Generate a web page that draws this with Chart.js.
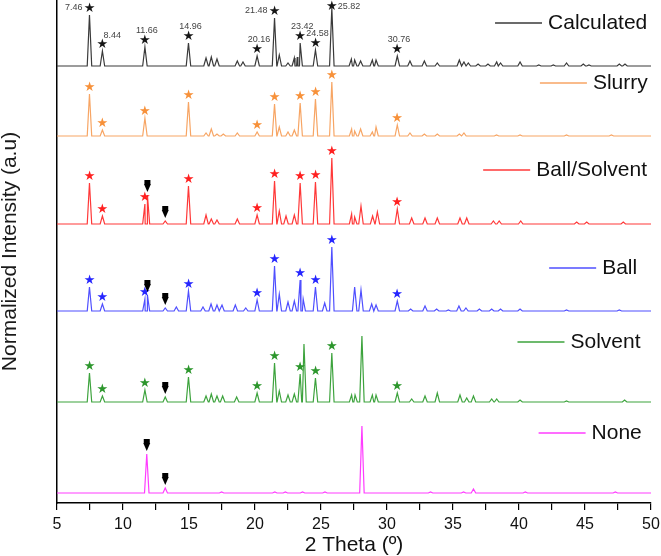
<!DOCTYPE html>
<html><head><meta charset="utf-8">
<script src="https://cdn.jsdelivr.net/npm/chart.js@4.4.1/dist/chart.umd.min.js"></script>
<style>html,body{margin:0;padding:0;background:#fff;}#wrap{width:661px;height:556px;}</style>
</head><body><div id="wrap"><canvas id="c" width="661" height="556"></canvas></div>
<script>
// ---------------- DATA ----------------
const seriesNames = ['Calculated', 'Slurry', 'Ball/Solvent', 'Ball', 'Solvent', 'None'];

// peak positions (2θ, degrees) and peak intensities (a.u. above each trace's own baseline)
const calcX = [7.46, 8.44, 11.66, 14.96, 16.29, 16.69, 17.12, 18.66, 19.09, 20.16, 21.48, 21.84, 22.5, 22.98, 23.2, 23.42, 24.58, 25.82, 27.3, 27.55, 28.0, 28.89, 29.17, 30.78, 31.74, 32.83, 33.81, 35.48, 35.83, 36.16, 36.9, 37.65, 38.31, 38.6, 40.08, 41.5, 42.6, 43.6, 44.87, 45.3, 47.6, 48.03];
const calcY = [51, 15, 19, 23, 8, 9, 7, 5, 4, 10, 48, 11, 3, 8, 9, 23, 16, 58, 7, 6, 5, 6, 6, 10, 5, 5, 3, 6, 4, 3, 2, 2, 4, 3, 4, 1, 1, 3, 2, 1, 2, 2];

const slurryX = [7.46, 8.44, 11.66, 14.96, 16.29, 16.69, 17.12, 17.6, 18.66, 20.16, 21.48, 21.84, 22.5, 22.98, 23.42, 24.58, 25.82, 27.32, 27.55, 28.0, 28.89, 29.17, 30.78, 31.74, 32.83, 33.81, 35.48, 35.83, 38.3, 40.08, 43.6, 47.0];
const slurryY = [42, 6, 18, 34, 3, 7, 2, 2, 3, 4, 32, 9, 4, 6, 33, 37, 54, 7, 5, 7, 4, 9, 11, 3, 2, 2, 2, 3, 1, 1, 1, 1];

const ballSolventX = [7.46, 8.44, 11.66, 11.85, 13.2, 14.96, 16.29, 16.69, 17.12, 18.66, 20.16, 21.48, 21.84, 22.35, 22.98, 23.42, 24.58, 25.82, 27.32, 27.55, 28.03, 28.91, 29.27, 30.78, 31.87, 32.88, 33.81, 35.53, 36.04, 38.06, 38.5, 40.13, 44.37, 45.13, 47.9];
const ballSolventY = [41, 8, 20, 29, 3, 38, 9, 5, 4, 5, 9, 43, 13, 8, 9, 41, 42, 66, 10, 7, 18, 8, 12, 15, 6, 6, 6, 6, 6, 3, 3, 3, 2, 2, 2];

const ballX = [7.46, 8.44, 11.66, 11.85, 13.2, 14.04, 14.96, 16.06, 16.67, 17.12, 17.5, 18.51, 19.3, 20.16, 21.48, 21.84, 22.5, 22.98, 23.42, 23.65, 24.58, 25.28, 25.82, 27.55, 28.03, 28.84, 29.17, 30.78, 31.79, 32.88, 33.76, 34.65, 35.45, 35.98, 37.0, 37.93, 38.6, 40.08, 43.6, 47.6];
const ballY = [24, 7, 12, 16, 3, 4, 20, 4, 7, 6, 6, 6, 3, 11, 45, 17, 9, 10, 31, 12, 24, 8, 64, 24, 21, 7, 6, 10, 2, 5, 2, 1, 5, 3, 2, 2, 2, 2, 1, 1];

const solventX = [7.46, 8.44, 11.66, 13.2, 14.96, 16.29, 16.69, 17.12, 17.55, 18.61, 20.16, 21.48, 21.84, 22.5, 22.98, 23.42, 23.71, 24.58, 25.82, 27.32, 27.58, 28.1, 28.89, 29.17, 30.78, 31.87, 32.88, 33.81, 35.53, 36.04, 36.55, 37.93, 38.31, 40.08, 43.6, 48.0];
const solventY = [29, 6, 12, 5, 25, 6, 8, 6, 6, 5, 9, 39, 11, 7, 8, 28, 58, 24, 49, 7, 7, 66, 7, 7, 9, 3, 6, 9, 7, 4, 6, 3, 3, 2, 1, 2];

const noneX = [11.8, 13.2, 17.47, 21.5, 22.3, 23.6, 25.3, 28.1, 33.3, 35.8, 36.55, 40.48, 47.3];
const noneY = [39, 5, 1, 1, 1, 1, 1, 67, 1, 1, 4, 1, 1];

// reflections marked with stars (same list for every pattern); labels printed on the calculated one
const starAngles = [7.46, 8.44, 11.66, 14.96, 20.16, 21.48, 23.42, 24.58, 25.82, 30.76];
const calcStarLabels = ['7.46', '8.44', '11.66', '14.96', '20.16', '21.48', '23.42', '24.58', '25.82', '30.76'];

// reflections marked with black triangles
const calcTriangles = [];
const slurryTriangles = [];
const ballSolventTriangles = [11.85, 13.2];
const ballTriangles = [11.85, 13.2];
const solventTriangles = [13.2];
const noneTriangles = [11.8, 13.2];

// x-axis tick labels
const xTickLabels = [5, 10, 15, 20, 25, 30, 35, 40, 45, 50];

// ---------------- LAYOUT / STYLE ----------------
const traceOffsets = [437, 367, 279, 192, 101, 10];       // vertical stacking offsets
const lineColors = ['#3a3a3a', '#F7A564', '#FF3838', '#4F4FFF', '#3DA33D', '#FF3CFF'];
const starColors = ['#151515', '#F7913A', '#FF2020', '#2525FF', '#2C962C', '#000'];
const legendTextX = [42.2, 45.6, 41.3, 46.3, 43.9, 45.5];  // data-x of legend text left edge
const legendY = [480, 420, 333, 235, 161, 70];               // data-y of legend row
const labelPlace = ['L', 'TR', 'T', 'T', 'T', 'L', 'T', 'T', 'R', 'T'];
const FONT = '"Liberation Sans", Arial, sans-serif';

const peakXs = [calcX, slurryX, ballSolventX, ballX, solventX, noneX];
const peakYs = [calcY, slurryY, ballSolventY, ballY, solventY, noneY];
const triLists = [calcTriangles, slurryTriangles, ballSolventTriangles, ballTriangles, solventTriangles, noneTriangles];

function profile(px, py, off) {
  const w = 0.17;
  const pts = [{x: 5, y: off}, {x: 50, y: off}];
  px.forEach((x, i) => {
    pts.push({x: x - w, y: off}, {x: x, y: off + py[i]}, {x: x + w, y: off});
  });
  pts.sort((a, b) => a.x - b.x);
  return pts;
}
function peakHeightNear(px, py, a, tol) {
  let best = 0;
  px.forEach((x, i) => { if (Math.abs(x - a) <= tol && py[i] > best) best = py[i]; });
  return best;
}

const datasets = seriesNames.map((name, i) => ({
  label: name,
  data: profile(peakXs[i], peakYs[i], traceOffsets[i]),
  borderColor: lineColors[i],
  borderWidth: 1.2,
  pointRadius: 0,
  tension: 0,
  fill: false
}));

const markers = {
  id: 'markers',
  afterDatasetsDraw(chart) {
    const ctx = chart.ctx, xs = chart.scales.x, ys = chart.scales.y;
    const top = chart.chartArea.top;
    ctx.save();
    // stars
    seriesNames.forEach((name, i) => {
      if (name === 'None') return;
      starAngles.forEach((a, k) => {
        const h = peakHeightNear(peakXs[i], peakYs[i], a, 0.12);
        const px = xs.getPixelForValue(a);
        let py = ys.getPixelForValue(traceOffsets[i] + h) - 6;
        py = Math.max(py, top + 7);
        ctx.fillStyle = starColors[i];
        ctx.font = '13px "DejaVu Sans"';
        ctx.textAlign = 'center';
        ctx.textBaseline = 'middle';
        ctx.fillText('\u2605', px, py);
        if (i === 0) {
          ctx.fillStyle = '#444';
          ctx.font = '9px ' + FONT;
          const pl = labelPlace[k];
          if (pl === 'L') { ctx.textAlign = 'right'; ctx.fillText(calcStarLabels[k], px - 7, py - 1); }
          else if (pl === 'R') { ctx.textAlign = 'left'; ctx.fillText(calcStarLabels[k], px + 6, py); }
          else if (pl === 'TR') { ctx.textAlign = 'left'; ctx.fillText(calcStarLabels[k], px + 1, py - 9); }
          else { ctx.textAlign = 'center'; ctx.fillText(calcStarLabels[k], px + 2, py - 10); }
        }
      });
    });
    // triangles
    triLists.forEach((list, i) => {
      list.forEach(a => {
        const h = peakHeightNear(peakXs[i], peakYs[i], a, 0.1);
        const px = xs.getPixelForValue(a);
        const tip = ys.getPixelForValue(traceOffsets[i] + h) - 3;
        ctx.fillStyle = '#000';
        ctx.beginPath();
        ctx.moveTo(px, tip);
        ctx.lineTo(px - 3.5, tip - 8);
        ctx.lineTo(px + 3.5, tip - 8);
        ctx.closePath();
        ctx.fill();
        ctx.fillRect(px - 3, tip - 12, 6, 4);
      });
    });
    // legend
    seriesNames.forEach((name, i) => {
      const tx = xs.getPixelForValue(legendTextX[i]);
      const ty = ys.getPixelForValue(legendY[i]);
      ctx.strokeStyle = lineColors[i];
      ctx.lineWidth = 1.5;
      ctx.beginPath();
      ctx.moveTo(tx - 53, ty);
      ctx.lineTo(tx - 6, ty);
      ctx.stroke();
      ctx.fillStyle = '#111';
      ctx.font = '21px ' + FONT;
      ctx.textAlign = 'left';
      ctx.textBaseline = 'middle';
      ctx.fillText(name, tx, ty);
    });
    ctx.restore();
  }
};

new Chart(document.getElementById('c'), {
  type: 'line',
  data: { datasets },
  options: {
    responsive: false,
    animation: false,
    devicePixelRatio: 1,
    layout: { padding: { left: 0, right: 10, top: 0, bottom: 0 } },
    plugins: { legend: { display: false }, tooltip: { enabled: false } },
    scales: {
      x: {
        type: 'linear', min: 5, max: 50,
        ticks: {
          stepSize: 2.5, autoSkip: false, maxRotation: 0, padding: 5,
          color: '#111', font: { family: FONT, size: 16 },
          callback: v => xTickLabels.includes(Number(v)) ? String(v) : ''
        },
        grid: { display: true, drawOnChartArea: false, drawTicks: true, tickLength: 7, color: '#000', lineWidth: 1.2 },
        border: { display: true, color: '#000', width: 1.5 },
        title: { display: true, text: '2 Theta (º)', color: '#111', padding: 0, font: { family: FONT, size: 21, lineHeight: 1 } },
        afterFit(s) { s.height = 53; s.paddingRight = 0; }
      },
      y: {
        min: 0, max: 503,
        ticks: { display: false },
        grid: { display: false },
        border: { display: true, color: '#000', width: 1.5 },
        title: { display: true, text: 'Normalized Intensity (a.u)', color: '#1a1a1a', padding: 0, font: { family: FONT, size: 21, lineHeight: 1 } },
        afterFit(s) { s.width = 57; }
      }
    }
  },
  plugins: [markers]
});
</script></body></html>
